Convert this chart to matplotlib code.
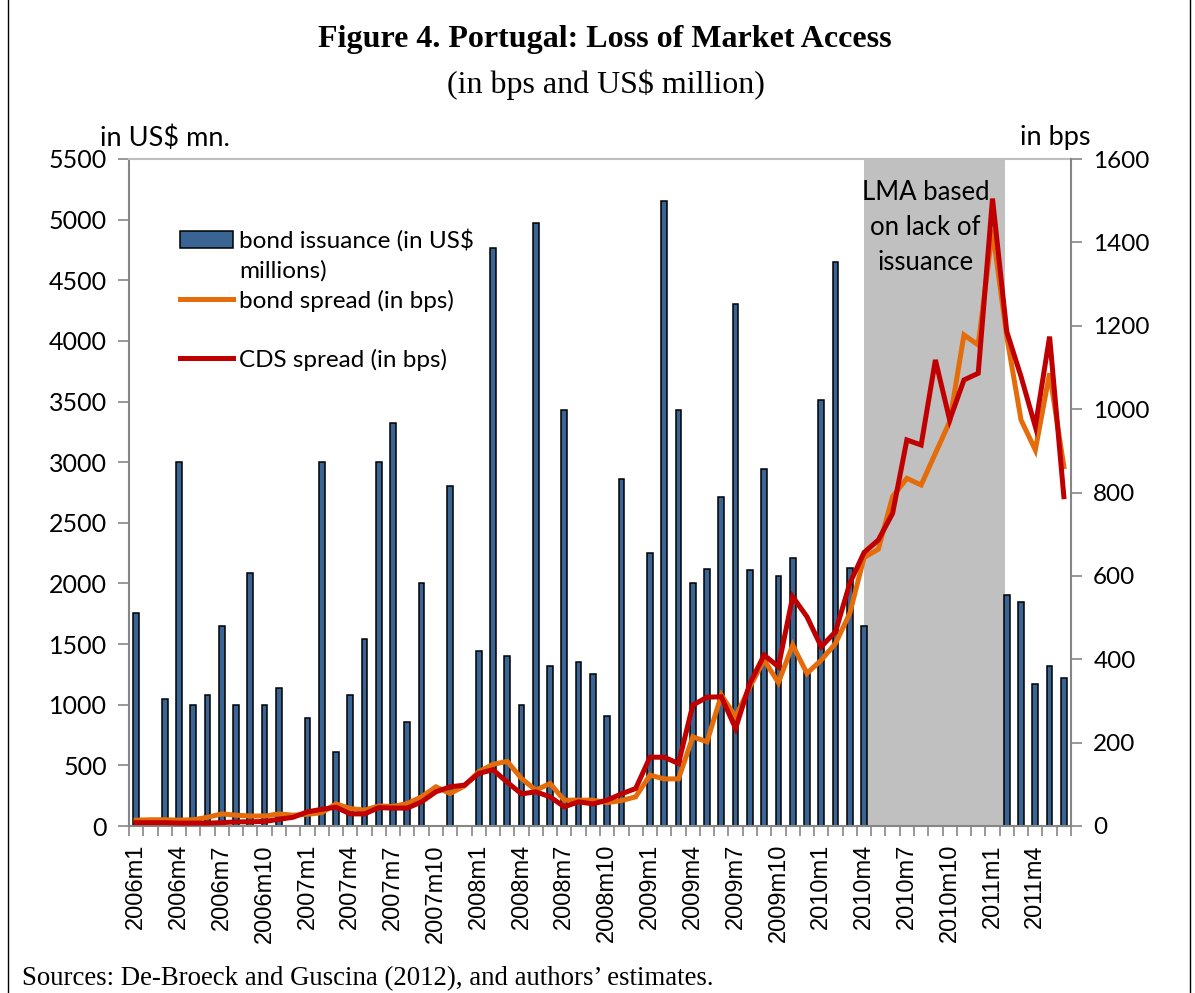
import matplotlib
matplotlib.use("Agg")
import matplotlib.pyplot as plt
from matplotlib.patches import Patch
from matplotlib.lines import Line2D
import numpy as np

categories = [
    "2006m1","2006m2","2006m3","2006m4","2006m5","2006m6","2006m7","2006m8","2006m9","2006m10","2006m11","2006m12",
    "2007m1","2007m2","2007m3","2007m4","2007m5","2007m6","2007m7","2007m8","2007m9","2007m10","2007m11","2007m12",
    "2008m1","2008m2","2008m3","2008m4","2008m5","2008m6","2008m7","2008m8","2008m9","2008m10","2008m11","2008m12",
    "2009m1","2009m2","2009m3","2009m4","2009m5","2009m6","2009m7","2009m8","2009m9","2009m10","2009m11","2009m12",
    "2010m1","2010m2","2010m3","2010m4","2010m5","2010m6","2010m7","2010m8","2010m9","2010m10","2010m11","2010m12",
    "2011m1","2011m2","2011m3","2011m4","2011m5","2011m6",
]

bond_issuance = [
    1760, 0, 1050, 3000, 1000, 1080, 1650, 1000, 2085, 1000, 1140, 0,
    890, 3000, 610, 1080, 1545, 3000, 3320, 855, 2000, 0, 2805, 0,
    1440, 4770, 1405, 1000, 4975, 1320, 3430, 1350, 1255, 910, 2860, 0,
    2255, 5150, 3430, 2000, 2120, 2710, 4305, 2110, 2940, 2065, 2210, 1290,
    3515, 4650, 2125, 1650, 0, 0, 0, 0, 0, 0, 0, 0,
    0, 1905, 1845, 1170, 1320, 1220,
]

bond_spread = [
    14, 15, 15, 14, 15, 21, 29, 26, 24, 24, 29, 26,
    28, 32, 53, 42, 38, 48, 47, 54, 70, 94, 78, 96,
    130, 148, 155, 114, 86, 102, 62, 62, 62, 56, 61, 70,
    122, 113, 113, 214, 202, 314, 262, 334, 398, 344, 434, 366,
    398, 438, 510, 644, 664, 790, 834, 818, 894, 970, 1178, 1154,
    1430, 1174, 974, 902, 1086, 862,
]

cds_spread = [
    8, 8, 8, 7, 7, 7, 8, 10, 10, 11, 16, 21,
    34, 40, 45, 29, 29, 44, 43, 43, 58, 82, 94, 98,
    126, 135, 105, 77, 82, 70, 46, 58, 53, 62, 77, 90,
    165, 165, 150, 290, 309, 310, 234, 342, 410, 382, 550, 502,
    430, 466, 582, 656, 686, 750, 926, 914, 1118, 974, 1070, 1086,
    1505, 1186, 1078, 958, 1174, 790,
]

tick_labels = ["2006m1","2006m4","2006m7","2006m10","2007m1","2007m4","2007m7","2007m10",
               "2008m1","2008m4","2008m7","2008m10","2009m1","2009m4","2009m7","2009m10",
               "2010m1","2010m4","2010m7","2010m10","2011m1","2011m4"]

lma_start, lma_end = "2010m4", "2011m1"

SANS = ["Lato", "DejaVu Sans"]
SERIF = ["Liberation Serif", "DejaVu Serif"]
GREY = "#868686"

fig = plt.figure(figsize=(11.95, 9.93), dpi=100)
ax = fig.add_axes([129/1195, 167/993, 942/1195, 667/993])
x = np.arange(len(categories))

ax.set_xlim(-0.5, len(categories) - 0.5)
ax.set_ylim(0, 5500)

i0 = categories.index(lma_start)
i1 = categories.index(lma_end)
ax.axvspan(i0, i1 + 0.86, color="#C0C0C0", zorder=0, lw=0)

ax.bar(x, bond_issuance, width=0.4, color="#3A6494", edgecolor="black",
       linewidth=1.1, zorder=2, label="bond issuance (in US$")

ax2 = ax.twinx()
ax2.set_ylim(0, 1600)
ax2.plot(x, bond_spread, color="#E46C0A", lw=3.6, solid_joinstyle="miter", zorder=3)
ax2.plot(x, cds_spread, color="#C00000", lw=3.6, solid_joinstyle="miter", zorder=4)

# ticks
ax.set_yticks(np.arange(0, 5501, 500))
ax.set_yticklabels([str(v) for v in range(0, 5501, 500)], fontsize=18, family=SANS)
ax.tick_params(axis="y", direction="out", length=8, width=1.2, color=GREY, pad=8)
ax2.set_yticks(np.arange(0, 1601, 200))
ax2.set_yticklabels([str(v) for v in range(0, 1601, 200)], fontsize=17.5, family=SANS)
ax2.tick_params(axis="y", direction="out", length=8, width=1.2, color=GREY, pad=8)

tick_pos = [categories.index(t) for t in tick_labels]
ax.set_xticks(tick_pos)
ax.set_xticklabels(tick_labels, rotation=90, fontsize=17, family=["Liberation Sans", "DejaVu Sans"])
ax.set_xticks(np.arange(-0.5, len(categories), 1), minor=True)
ax.tick_params(axis="x", which="major", length=0, pad=13)
ax.tick_params(axis="x", which="minor", length=7, width=1.2, color=GREY, direction="out")

for s in ["left", "bottom"]:
    ax.spines[s].set_color(GREY)
    ax.spines[s].set_linewidth(1.5)
ax.spines["top"].set_color("#BFBFBF")
ax.spines["top"].set_linewidth(1.5)
ax.spines["right"].set_visible(False)
for s in ["left", "bottom", "top"]:
    ax2.spines[s].set_visible(False)
ax2.spines["right"].set_color(GREY)
ax2.spines["right"].set_linewidth(1.5)

# legend
handles = [
    Patch(facecolor="#3A6494", edgecolor="black", linewidth=1.1),
    Line2D([], [], linestyle="none"),
    Line2D([], [], color="#E46C0A", lw=3.6),
    Line2D([], [], linestyle="none"),
    Line2D([], [], color="#C00000", lw=3.6),
]
labels = ["bond issuance (in US$", "millions)", "bond spread (in bps)", " ", "CDS spread (in bps)"]
leg = ax2.legend(handles, labels, loc="upper left", bbox_to_anchor=(0.054, 0.895),
                 frameon=False, borderpad=0, borderaxespad=0, handletextpad=0.25,
                 handlelength=2.2, labelspacing=0.33, prop={"family": SANS, "size": 17.5})

ax2.text(55.3, 0.897, "LMA based\non lack of\nissuance", transform=ax2.get_xaxis_transform(),
         ha="center", va="center", fontsize=18.5, family=SANS, linespacing=1.5, zorder=5)

fig.text(100/1195, (993-138)/993, "in US$ mn.", ha="left", va="center", fontsize=19.5, family=SANS)
fig.text(1090/1195, (993-138)/993, "in bps", ha="right", va="center", fontsize=19.5, family=SANS)

fig.text(605/1195, (993-40)/993, "Figure 4. Portugal: Loss of Market Access", ha="center", va="center",
         fontsize=23, fontweight="bold", family=SERIF)
fig.text(606/1195, (993-85)/993, "(in bps and US$ million)", ha="center", va="center",
         fontsize=23, family=SERIF)
fig.text(22/1195, 1.5/993, "Sources: De-Broeck and Guscina (2012), and authors\u2019 estimates.",
         ha="left", va="bottom", fontsize=19.3, family=SERIF)

fig.add_artist(Line2D([8/1195, 8/1195], [0, 1], transform=fig.transFigure, color="black", lw=1))
fig.add_artist(Line2D([1190/1195, 1190/1195], [0, 1], transform=fig.transFigure, color="black", lw=1))

fig.savefig("out.png", dpi=100)
